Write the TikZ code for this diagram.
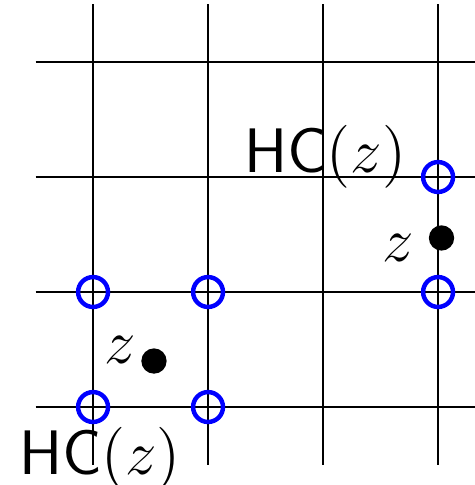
\documentclass[tikz,border=0pt]{standalone}
\usepackage{amsmath, amssymb}
\usepackage{graphicx}
\usepackage{xcolor}
\usepackage{tikz}
\definecolor{hullColor}{RGB}{0, 0, 255}
\newcommand{\biglab}[1]{\scalebox{1.08}{#1}}

\begin{document}
\begin{tikzpicture}[font=\fontsize{14}{16}\selectfont,
    hullpt/.style={circle, draw=hullColor, line width=1.1pt, minimum size=0.26cm, inner sep=0pt},
    zpt/.style={circle, fill=black, minimum size=0.22cm, inner sep=0pt}]
	\useasboundingbox (-0.809,-0.678) rectangle (3.313,3.539);
	
	% Grid
	\foreach \x in {0,...,3}
		\draw[line width=0.5pt] (\x,-0.5) -- (\x,3.5);
	\foreach \y in {0,...,3}
		\draw[line width=0.5pt] (-0.5,\y) -- (3.32,\y);
	
	% Point inside a cell and its four corners
	\node[zpt] (z1) at (0.53, 0.40) {};
	\node (z1lab) at (0.24, 0.50) {\biglab{$z$}};
	\node[hullpt] (c00) at (0,0) {};
	\node[hullpt] (c10) at (1,0) {};
	\node[hullpt] (c01) at (0,1) {};
	\node[hullpt] (c11) at (1,1) {};
	\node (hc1) at (0.06,-0.45) {\biglab{$\mathsf{HC}(z)$}};
	
	% Point on a grid line and its two ends
	\node[zpt] (z2) at (3.03, 1.47) {};
	\node (z2lab) at (2.65, 1.38) {\biglab{$z$}};
	\node[hullpt] (c31) at (3,1) {};
	\node[hullpt] (c32) at (3,2) {};
	\node (hc2) at (2.02, 2.18) {\biglab{$\mathsf{HC}(z)$}};
\end{tikzpicture}
\end{document}
